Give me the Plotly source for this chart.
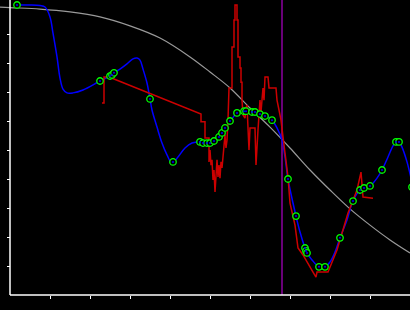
import plotly.graph_objects as go

# Gray smooth reference curve
gray_x = [-0.25, 0, 0.75, 1.5, 2.25, 3.0, 3.75, 4.5, 5.0, 5.5, 6.0, 6.5, 7.0, 7.5, 8.0, 8.5, 9.0, 9.5, 10.0]
gray_y = [9.93, 9.91, 9.86, 9.76, 9.59, 9.28, 8.86, 8.21, 7.69, 7.14, 6.45, 5.79, 5.07, 4.31, 3.62, 2.97, 2.41, 1.90, 1.45]

# Blue smooth curve
blue_x = [0.175, 0.5, 0.75, 0.875, 1.0, 1.075, 1.175, 1.25, 1.325, 1.425, 1.575, 1.825, 2.25, 2.5, 2.6,
          2.75, 2.925, 3.075, 3.175, 3.25, 3.325, 3.425, 3.5, 3.55, 3.675, 3.8, 3.925, 4.05, 4.2, 4.375,
          4.55, 4.75, 4.925, 5.0, 5.1, 5.225, 5.3, 5.375, 5.5, 5.675, 5.825, 5.9, 6.05, 6.2, 6.375, 6.55,
          6.675, 6.8, 6.875, 6.95, 7.15, 7.25, 7.375, 7.425, 7.55, 7.725, 7.875, 8.0, 8.125, 8.25, 8.425,
          8.575, 8.75, 8.85, 9.0, 9.175, 9.3, 9.45, 9.575, 9.65, 9.725, 9.8, 9.925, 10.075]
blue_y = [10.0, 10.0, 9.98, 9.93, 9.59, 9.03, 8.21, 7.48, 7.10, 6.97, 6.97, 7.07, 7.38, 7.55, 7.66,
          7.79, 7.97, 8.14, 8.17, 8.10, 7.79, 7.31, 6.76, 6.38, 5.79, 5.24, 4.83, 4.55, 4.76, 5.07,
          5.24, 5.28, 5.24, 5.24, 5.31, 5.45, 5.55, 5.72, 5.97, 6.28, 6.34, 6.34, 6.31, 6.28, 6.21, 6.03,
          5.76, 5.34, 4.76, 4.0, 2.72, 2.17, 1.62, 1.45, 1.21, 0.97, 0.97, 1.14, 1.48, 1.97, 2.59,
          3.24, 3.62, 3.69, 3.76, 4.03, 4.31, 4.76, 5.14, 5.28, 5.28, 5.10, 4.59, 3.72]

# Red noisy measurement line
red_x = [2.3, 2.35, 2.35, 2.45, 2.6, 4.75, 4.775, 4.775, 4.875, 4.875, 4.975, 4.975, 5.0, 5.025, 5.05,
         5.075, 5.1, 5.125, 5.15, 5.175, 5.2, 5.225, 5.25, 5.275, 5.3, 5.325, 5.35, 5.375, 5.4, 5.425,
         5.45, 5.475, 5.475, 5.55, 5.55, 5.6, 5.6, 5.625, 5.625, 5.675, 5.675, 5.7, 5.7, 5.75, 5.75,
         5.775, 5.775, 5.8, 5.8, 5.825, 5.875, 5.9, 5.925, 5.95, 5.975, 6.0, 6.125, 6.15, 6.175, 6.2,
         6.225, 6.25, 6.275, 6.3, 6.325, 6.35, 6.375, 6.45, 6.475, 6.65, 6.675, 6.725, 6.775, 6.825,
         6.875, 6.95, 7.0, 7.125, 7.2, 7.325, 7.575, 7.65, 7.675, 7.95, 8.175, 8.45, 8.675, 8.775,
         8.825, 9.075]
red_y = [6.62, 6.62, 7.52, 7.52, 7.45, 6.24, 6.24, 5.97, 5.97, 5.41, 5.41, 4.59, 5.0, 4.48, 4.66,
         3.97, 4.31, 3.55, 4.14, 4.66, 4.07, 4.48, 4.03, 4.59, 4.38, 4.83, 5.07, 5.52, 5.07, 5.34,
         6.03, 6.72, 7.14, 7.14, 8.55, 8.55, 9.48, 9.48, 10.0, 10.0, 9.48, 9.48, 8.21, 8.21, 7.83,
         7.83, 7.34, 7.34, 6.72, 6.21, 6.10, 6.45, 6.55, 5.76, 5.0, 5.76, 5.76, 4.48, 5.34, 5.69,
         6.21, 6.72, 6.31, 6.72, 7.14, 6.72, 7.52, 7.52, 7.14, 7.14, 6.72, 6.38, 6.03, 5.45,
         4.83, 4.07, 3.17, 2.41, 1.62, 1.38, 0.79, 0.62, 0.79, 0.79, 1.55, 2.83, 3.62, 4.24,
         3.38, 3.34]

# Green sample points
pts_x = [0.175, 2.25, 2.5, 2.55, 2.6, 3.5, 4.075, 4.75, 4.825, 4.925, 5.0, 5.1, 5.225, 5.3, 5.375,
         5.5, 5.675, 5.85, 5.9, 6.05, 6.125, 6.25, 6.375, 6.55, 6.95, 7.15, 7.375, 7.4, 7.425, 7.725,
         7.875, 8.25, 8.575, 8.75, 8.85, 9.0, 9.3, 9.65, 9.725, 10.05]
pts_y = [10.0, 7.38, 7.55, 7.59, 7.66, 6.76, 4.59, 5.28, 5.24, 5.24, 5.24, 5.31, 5.45, 5.59, 5.76,
         6.0, 6.28, 6.34, 6.34, 6.31, 6.31, 6.24, 6.17, 6.03, 4.0, 2.72, 1.62, 1.52, 1.45, 0.97,
         0.97, 1.97, 3.24, 3.62, 3.69, 3.76, 4.31, 5.28, 5.28, 3.72]

# Vertical marker line position
vline_x = 6.8

tick_vals = [1, 2, 3, 4, 5, 6, 7, 8, 9]
x_range = [-0.25, 10]
y_range = [-15 / 29, 295 / 29]

fig = go.Figure()
fig.add_trace(go.Scatter(x=[vline_x, vline_x], y=[0, y_range[1]], mode="lines",
                         line=dict(color="#8c00a0", width=1.5), hoverinfo="skip"))
fig.add_trace(go.Scatter(x=gray_x, y=gray_y, mode="lines", line_shape="spline",
                         line=dict(color="#9a9a9a", width=1.2)))
fig.add_trace(go.Scatter(x=blue_x, y=blue_y, mode="lines", line_shape="spline",
                         line=dict(color="#0000ff", width=1.5)))
fig.add_trace(go.Scatter(x=red_x, y=red_y, mode="lines",
                         line=dict(color="#cc0000", width=1.5)))
fig.add_trace(go.Scatter(x=pts_x, y=pts_y, mode="markers",
                         marker=dict(symbol="circle", size=6.5, color="black",
                                     line=dict(color="#00ff00", width=1.3))))
fig.add_trace(go.Scatter(x=pts_x, y=pts_y, mode="markers",
                         marker=dict(symbol="circle", size=2, color="#0000ff")))

fig.add_shape(type="line", xref="x", yref="y", x0=0, y0=0, x1=0, y1=y_range[1],
              line=dict(color="white", width=1.5))
fig.add_shape(type="line", xref="x", yref="y", x0=0, y0=0, x1=x_range[1], y1=0,
              line=dict(color="white", width=1.5))

fig.update_layout(
    width=410, height=310,
    margin=dict(l=0, r=0, t=0, b=0, pad=0),
    paper_bgcolor="black", plot_bgcolor="black",
    showlegend=False,
    xaxis=dict(range=x_range, showgrid=False, zeroline=False, showline=False,
               ticks="outside", tickvals=tick_vals, ticklen=3, tickwidth=1.2,
               tickcolor="white", showticklabels=False, anchor="free", position=15 / 310),
    yaxis=dict(range=y_range, showgrid=False, zeroline=False, showline=False,
               ticks="outside", tickvals=tick_vals, ticklen=3, tickwidth=1.2,
               tickcolor="white", showticklabels=False, anchor="free", position=10 / 410),
)

fig.write_html("out.html")
